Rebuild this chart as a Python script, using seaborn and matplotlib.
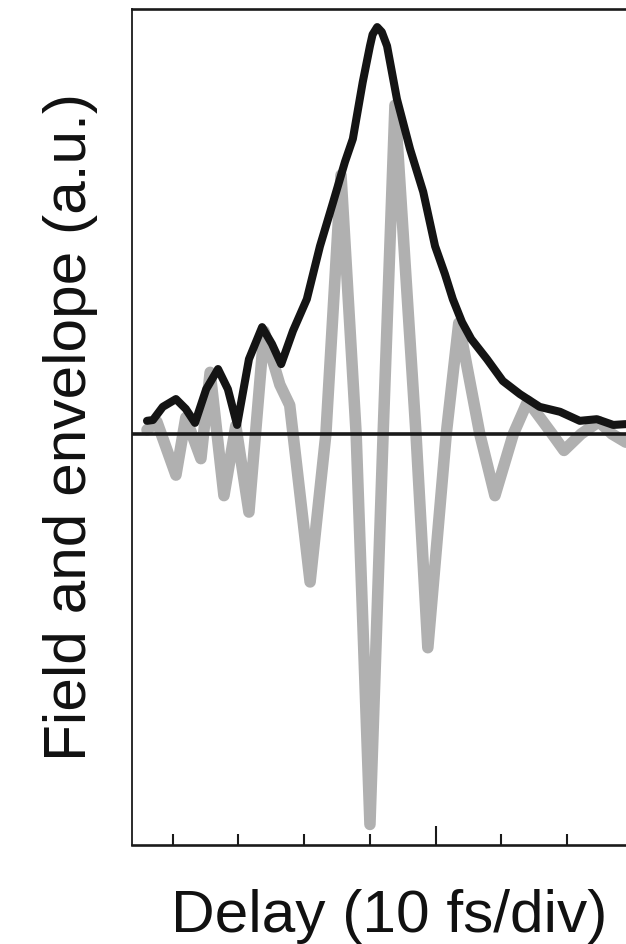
import matplotlib
matplotlib.use("Agg")
import matplotlib.pyplot as plt
import seaborn as sns
import pandas as pd

# ---- data (delay in fs, amplitude in a.u.) ----
field_t = [-43.9, -42.4, -39.5, -38.0, -35.7, -34.3, -32.2, -30.4, -28.4, -26.1,
           -23.7, -22.2, -19.1, -16.7, -14.4, -12.1, -10.0, -8.0, -6.2, -3.0,
           -1.2, 1.6, 3.5, 6.7, 9.0, 11.8, 14.0, 17.7, 19.5, 22.1, 24.8, 26.8, 28.9]
field_y = [0.01, 0.03, -0.10, 0.04, -0.06, 0.15, -0.15, 0.02, -0.19, 0.25,
           0.12, 0.07, -0.36, 0.0, 0.63, 0.0, -0.95, 0.0, 0.80, 0.0,
           -0.52, 0.0, 0.27, 0.0, -0.15, 0.0, 0.08, 0.0, -0.04, 0.0, 0.03, 0.0, -0.02]

env_t = [-43.9, -43.0, -41.5, -39.5, -38.0, -36.6, -34.9, -33.1, -31.6, -30.2,
         -28.4, -26.4, -24.9, -23.5, -21.7, -19.6, -17.6, -15.6, -13.8, -12.6,
         -11.1, -10.0, -9.6, -8.9, -8.2, -7.4, -5.9, -3.9, -1.9, -0.1, 1.4, 2.6,
         4.0, 5.4, 7.8, 10.2, 12.8, 15.8, 18.9, 21.9, 24.5, 27.0, 28.9]
env_y = [0.032, 0.034, 0.066, 0.085, 0.061, 0.027, 0.109, 0.158, 0.109, 0.022,
         0.182, 0.260, 0.219, 0.170, 0.251, 0.328, 0.457, 0.564, 0.662, 0.718,
         0.856, 0.944, 0.972, 0.990, 0.978, 0.944, 0.815, 0.693, 0.589, 0.457, 0.389, 0.328,
         0.272, 0.231, 0.182, 0.129, 0.097, 0.066, 0.054, 0.032, 0.036, 0.022, 0.024]

major_ticks = [0]
minor_ticks = [-40, -30, -20, -10, 10, 20]
xlabel = "Delay (10 fs/div)"
ylabel = "Field and envelope (a.u.)"

sns.set_style("white")
plt.rcParams["font.family"] = ["Liberation Sans", "DejaVu Sans"]

df_field = pd.DataFrame({"t": field_t, "y": field_y})
df_env = pd.DataFrame({"t": env_t, "y": env_y})

fig = plt.figure(figsize=(6.26, 9.45), dpi=100)
ax = fig.add_axes([132 / 626, 1 - 846 / 945, 1 - 132 / 626, 836 / 945])

sns.lineplot(data=df_field, x="t", y="y", ax=ax, color="#b0b0b0", linewidth=8.3,
             sort=False, estimator=None)
ax.axhline(0, color="#1a1a1a", linewidth=2.6, zorder=3)
sns.lineplot(data=df_env, x="t", y="y", ax=ax, color="#141414", linewidth=5.8,
             sort=False, estimator=None, zorder=4)

ax.set_xlim(-46.18, 28.93)
ax.set_ylim(-1.0, 1.034)

ax.set_xticks(major_ticks)
ax.set_xticks(minor_ticks, minor=True)
ax.set_xticklabels([])
ax.set_yticks([])
ax.tick_params(axis="x", which="major", direction="in", length=13.5, width=1.5,
               color="#1a1a1a", bottom=True)
ax.tick_params(axis="x", which="minor", direction="in", length=7.8, width=1.5,
               color="#1a1a1a", bottom=True)

for side in ["top", "bottom"]:
    ax.spines[side].set_linewidth(1.9)
    ax.spines[side].set_color("#1a1a1a")
ax.spines["left"].set_linewidth(1.3)
ax.spines["left"].set_color("#1a1a1a")
ax.spines["right"].set_visible(False)

ax.set_xlabel(xlabel, fontsize=43.5, color="#111111", va="baseline")
ax.xaxis.set_label_coords((389 - 132) / 494, (846 - 932) / 836)
ax.set_ylabel(ylabel, fontsize=43.5, color="#111111", va="baseline",
              rotation_mode="anchor")
ax.yaxis.set_label_coords((86 - 132) / 494, (846 - 427) / 836)

fig.savefig("out.png", dpi=100)
